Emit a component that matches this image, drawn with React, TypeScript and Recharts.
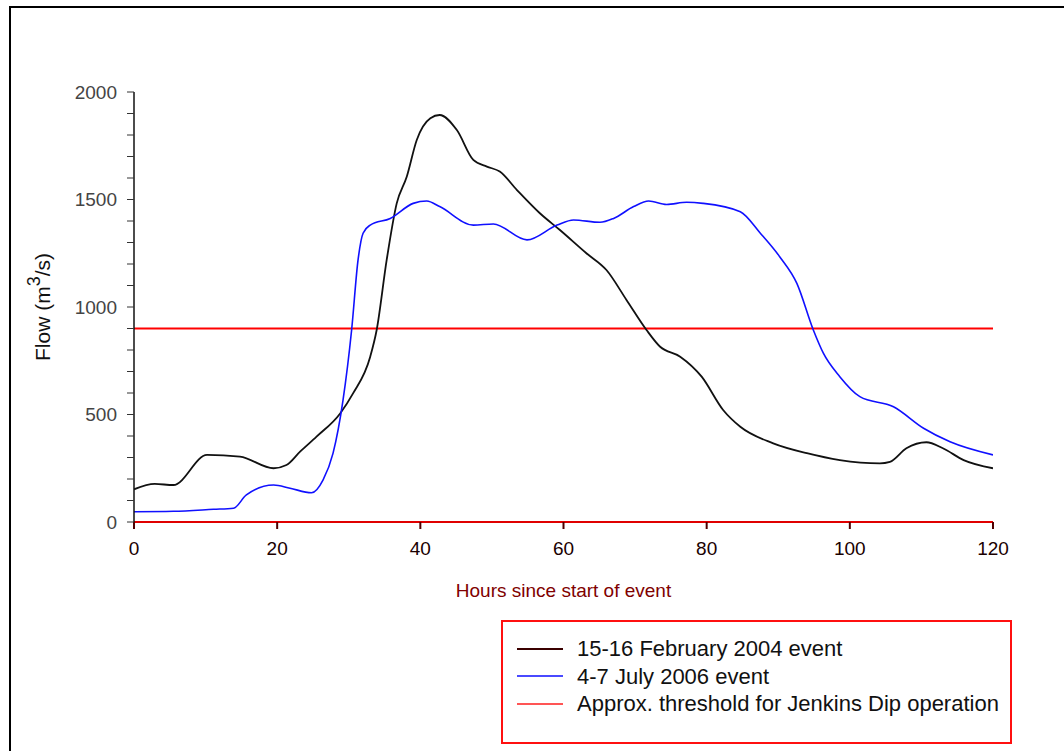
import React from 'react';
import { LineChart, Line, XAxis, YAxis, ReferenceLine } from 'recharts';

// 15-16 February 2004 event
const febHours = [0, 2.9, 5.5, 10.2, 14.8, 19.5, 21.3, 23.2, 25.5, 28.8, 30.6, 33, 33.9, 35.3, 36.7, 38.1, 39.5, 41.4, 42.7, 45.1, 47.4, 49.3, 51.1, 53.5, 56.7, 59.5, 63.2, 66, 68.8, 71.6, 73.5, 76.3, 79.3, 82.3, 84.7, 89.3, 94, 98.6, 104.2, 105.6, 107.9, 110.7, 113, 115.9, 120];
const febFlow = [152, 177, 172, 312, 304, 250, 265, 327, 397, 505, 598, 769, 893, 1219, 1482, 1606, 1777, 1878, 1893, 1823, 1684, 1653, 1630, 1544, 1436, 1358, 1250, 1172, 1033, 893, 815, 769, 676, 521, 443, 366, 320, 288, 273, 280, 343, 371, 343, 288, 250];

// 4-7 July 2006 event
const julHours = [0, 5.5, 11.1, 13.9, 15.7, 19.5, 21.8, 24.8, 26.4, 27.8, 29.2, 30.4, 31.3, 32, 33, 35.8, 39, 40.9, 42.7, 47.4, 50.2, 54.9, 59.1, 61.4, 65.1, 67, 69.8, 71.9, 74.4, 77.2, 79.5, 84.7, 87.5, 90.2, 92.6, 94.9, 96.3, 98.6, 101.4, 106.1, 110.3, 114, 120];
const julFlow = [48, 50, 59, 64, 126, 172, 157, 136, 195, 319, 567, 893, 1219, 1343, 1381, 1412, 1482, 1493, 1467, 1381, 1386, 1312, 1381, 1405, 1394, 1412, 1467, 1493, 1477, 1487, 1482, 1443, 1343, 1234, 1110, 893, 785, 676, 583, 536, 436, 373, 312];

const threshold = 900;
const xTicks = [0, 20, 40, 60, 80, 100, 120];
const yTicks = [0, 100, 200, 300, 400, 500, 600, 700, 800, 900, 1000, 1100, 1200, 1300, 1400, 1500, 1600, 1700, 1800, 1900, 2000];

const legendItems = [
  { label: '15-16 February 2004 event', color: '#3a0000' },
  { label: '4-7 July 2006 event', color: '#4a4aff' },
  { label: 'Approx. threshold for Jenkins Dip operation', color: '#ff5555' },
];

const febData = febHours.map((h, i) => ({ h, v: febFlow[i] }));
const julData = julHours.map((h, i) => ({ h, v: julFlow[i] }));

const FONT = '"Liberation Sans", Arial, sans-serif';

const YLabel = ({ viewBox }: any) => {
  const cy = viewBox.y + viewBox.height / 2;
  const x = 50;
  return (
    <text x={x} y={cy} transform={`rotate(-90 ${x} ${cy})`} textAnchor="middle" fontSize={21} fontFamily={FONT} fill="#111">
      <tspan>Flow (m</tspan>
      <tspan dy={-10} fontSize={18}>3</tspan>
      <tspan dy={10}>/s)</tspan>
    </text>
  );
};

const LegendBox = () => (
  <div style={{ position: 'absolute', left: 501, top: 620, width: 507, height: 107, border: '2px solid #ff1010', background: '#fff', fontFamily: FONT, paddingTop: 13, boxSizing: 'content-box' }}>
    {legendItems.map((it) => (
      <div key={it.label} style={{ display: 'flex', alignItems: 'center', height: 27.5, marginLeft: 14 }}>
        <div style={{ width: 46, height: 0, borderTop: `2px solid ${it.color}` }} />
        <span style={{ marginLeft: 14, fontSize: 22, color: '#111', lineHeight: '27px', whiteSpace: 'nowrap' }}>{it.label}</span>
      </div>
    ))}
  </div>
);

export default function App() {
  return (
    <div style={{ position: 'absolute', left: 0, top: 0, width: 1064, height: 751, overflow: 'hidden', background: '#fff' }}>
      <div style={{ position: 'absolute', left: 9, top: 6, width: 1200, height: 900, border: '2px solid #000' }} />
      <LineChart width={1064} height={751} margin={{ top: 92, right: 71, bottom: 199, left: 74 }}>
        <XAxis
          type="number"
          dataKey="h"
          domain={[0, 120]}
          ticks={xTicks}
          allowDataOverflow
          height={30}
          tickSize={7}
          tickMargin={13}
          axisLine={{ stroke: '#e00000', strokeWidth: 2 }}
          tickLine={{ stroke: '#500000', strokeWidth: 2 }}
          tick={{ fontSize: 19, fill: '#1a0000', fontFamily: FONT }}
          label={{ value: 'Hours since start of event', position: 'bottom', offset: 32, fontSize: 19, fill: '#800000', fontFamily: FONT }}
        />
        <YAxis
          type="number"
          domain={[0, 2000]}
          ticks={yTicks}
          interval={0}
          width={60}
          tickSize={7}
          tickMargin={10}
          axisLine={{ stroke: '#111', strokeWidth: 1.5 }}
          tickLine={{ stroke: '#333', strokeWidth: 1 }}
          tick={{ fontSize: 19, fill: '#444', fontFamily: FONT }}
          tickFormatter={(v: number) => (v % 500 === 0 ? String(v) : '')}
          label={<YLabel />}
        />
        <ReferenceLine y={threshold} stroke="#ff0000" strokeWidth={2} />
        <Line data={febData} dataKey="v" type="monotone" stroke="#111" strokeWidth={1.8} dot={false} isAnimationActive={false} />
        <Line data={julData} dataKey="v" type="monotone" stroke="#1010ff" strokeWidth={1.6} dot={false} isAnimationActive={false} />
      </LineChart>
      <LegendBox />
    </div>
  );
}
